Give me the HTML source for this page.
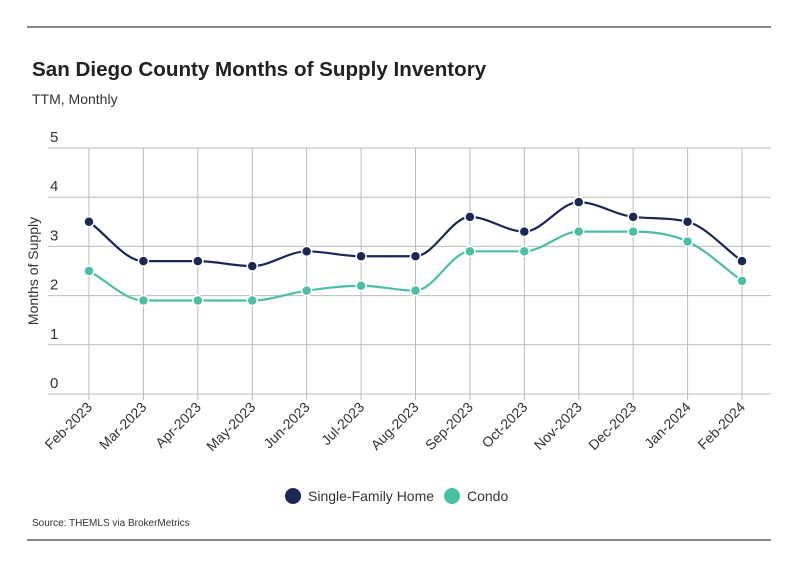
<!DOCTYPE html>
<html><head><meta charset="utf-8"><style>
body{margin:0;background:#fff;font-family:"Liberation Sans",sans-serif}
svg text{font-family:"Liberation Sans",sans-serif}
</style></head><body>
<svg id="c" width="799" height="575" viewBox="0 0 799 575">
<line x1="27" y1="27" x2="771" y2="27" stroke="#111" stroke-width="1"/>
<text x="32" y="76" font-size="20.6" font-weight="bold" fill="#222">San Diego County Months of Supply Inventory</text>
<text x="32" y="104" font-size="14" fill="#333">TTM, Monthly</text>
<text transform="translate(38,271) rotate(-90)" text-anchor="middle" font-size="14" fill="#333">Months of Supply</text>
<g id="grid"></g><g id="series"></g>
<g>
<circle cx="293" cy="496" r="8" fill="#1b2756"/>
<text x="308" y="501" font-size="14" fill="#333">Single-Family Home</text>
<circle cx="452" cy="496" r="8" fill="#4bbfa5"/>
<text x="467" y="501" font-size="14" fill="#333">Condo</text>
</g>
<text x="32" y="526" font-size="10" fill="#333">Source:  THEMLS via BrokerMetrics</text>
<line x1="27" y1="540" x2="771" y2="540" stroke="#111" stroke-width="1"/>
</svg>
<script>
const categories=["Feb-2023","Mar-2023","Apr-2023","May-2023","Jun-2023","Jul-2023","Aug-2023","Sep-2023","Oct-2023","Nov-2023","Dec-2023","Jan-2024","Feb-2024"];
const sfhValues=[3.5,2.7,2.7,2.6,2.9,2.8,2.8,3.6,3.3,3.9,3.6,3.5,2.7];
const condoValues=[2.5,1.9,1.9,1.9,2.1,2.2,2.1,2.9,2.9,3.3,3.3,3.1,2.3];
const yTicks=[0,1,2,3,4,5];
const NS="http://www.w3.org/2000/svg";
const x=i=>89+i*(742-89)/(categories.length-1);
const y=v=>394-v*(394-148)/5;
function mk(t,a,p){const e=document.createElementNS(NS,t);for(const k in a)e.setAttribute(k,a[k]);p.appendChild(e);return e;}
const grid=document.getElementById('grid');
yTicks.forEach(t=>{
 const l=mk('line',{x1:48,x2:771,y1:y(t),y2:y(t),stroke:'#bbb','stroke-width':1},grid);
 
 
 const tx=mk('text',{x:50,y:y(t)-6,'font-size':15,fill:'#333'},grid);tx.textContent=t;
 
 
});
categories.forEach((c,i)=>{
 const l=mk('line',{x1:x(i),x2:x(i),y1:148,y2:400,stroke:'#bbb','stroke-width':1},grid);
 
 
 const tx=mk('text',{transform:`translate(${x(i)+4},${408}) rotate(-45)`,'text-anchor':'end','font-size':14,fill:'#333'},grid);tx.textContent=c;
 
 
});
function monotone(pts){
 const n=pts.length,d=[],m=[];
 for(let i=0;i<n-1;i++)d.push((pts[i+1][1]-pts[i][1])/(pts[i+1][0]-pts[i][0]));
 for(let i=0;i<n;i++){
  if(i==0)m.push(d[0]);else if(i==n-1)m.push(d[n-2]);
  else m.push(d[i-1]*d[i]<=0?0:(d[i-1]+d[i])/2);
 }
 for(let i=0;i<n-1;i++){if(d[i]==0){m[i]=0;m[i+1]=0;continue;}const a=m[i]/d[i],b=m[i+1]/d[i],s=a*a+b*b;if(s>9){const t=3/Math.sqrt(s);m[i]=t*a*d[i];m[i+1]=t*b*d[i];}}
 let p=`M${pts[0][0]},${pts[0][1]}`;
 for(let i=0;i<n-1;i++){const h=(pts[i+1][0]-pts[i][0])/3;p+=`C${pts[i][0]+h},${pts[i][1]+m[i]*h} ${pts[i+1][0]-h},${pts[i+1][1]-m[i+1]*h} ${pts[i+1][0]},${pts[i+1][1]}`;}
 return p;
}
const sg=document.getElementById('series');
[[condoValues,'#4bbfa5','condo'],[sfhValues,'#1b2756','sfh']].forEach(([vals,col,nm])=>{
 const pts=vals.map((v,i)=>[x(i),y(v)]);
 const path=mk('path',{d:monotone(pts),fill:'none',stroke:col,'stroke-width':2.2},sg);
 
 
 pts.forEach(p=>{
  const c=mk('circle',{cx:p[0],cy:p[1],r:5,fill:col,stroke:'#fff','stroke-width':1.5},sg);
  
  
 });
});
</script>
</body></html>
